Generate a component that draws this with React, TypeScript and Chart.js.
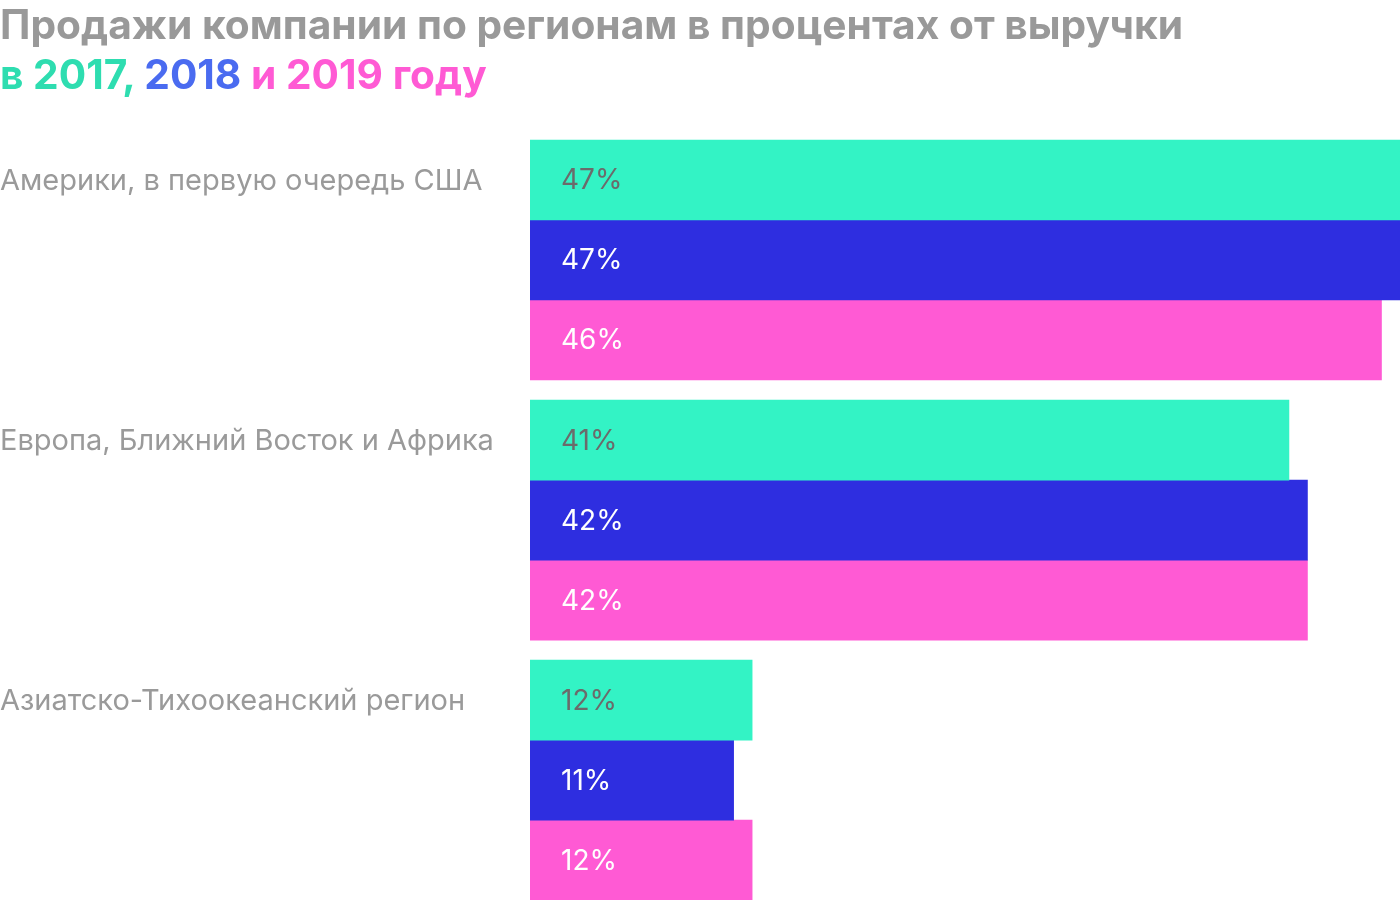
import React, { useEffect, useRef } from "react";
import { Chart, registerables } from "chart.js";

Chart.register(...registerables);

const categories = [
  "Америки, в первую очередь США",
  "Европа, Ближний Восток и Африка",
  "Азиатско-Тихоокеанский регион",
];
const years = ["2017", "2018", "2019"];
const values2017 = [47, 41, 12];
const values2018 = [47, 42, 11];
const values2019 = [46, 42, 12];
const barColors = ["#33F3C5", "#2E2EE0", "#FF5AD4"];
const labelColors = ["#6b6b6b", "#ffffff", "#ffffff"];

const FONT = "Inter, Roboto, 'Noto Sans', sans-serif";
const H = 927;

const valueLabels = {
  id: "valueLabels",
  afterDatasetsDraw(chart: any) {
    const ctx = chart.ctx;
    ctx.save();
    ctx.font = `28px ${FONT}`;
    ctx.textBaseline = "middle";
    ctx.textAlign = "left";
    chart.data.datasets.forEach((ds: any, di: number) => {
      const meta = chart.getDatasetMeta(di);
      meta.data.forEach((bar: any, i: number) => {
        ctx.fillStyle = labelColors[di];
        ctx.fillText(`${ds.data[i]}%`, bar.base + 31, bar.y + 1);
      });
    });
    ctx.restore();
  },
};

export default function App() {
  const ref = useRef<HTMLCanvasElement>(null);
  useEffect(() => {
    document.body.style.margin = "0";
    document.body.style.overflow = "hidden";
    document.documentElement.style.overflow = "hidden";
    const chart = new Chart(ref.current!, {
      type: "bar",
      data: {
        labels: categories,
        datasets: [values2017, values2018, values2019].map((d, i) => ({
          label: years[i],
          data: d,
          backgroundColor: barColors[i],
          borderWidth: 0,
          barThickness: 80,
        })),
      },
      options: {
        indexAxis: "y",
        animation: false,
        responsive: false,
        maintainAspectRatio: false,
        layout: { padding: { top: 130, left: 0, right: 0, bottom: 0 } },
        plugins: {
          legend: { display: false },
          tooltip: { enabled: false },
          title: { display: false },
        },
        scales: {
          x: {
            display: false,
            min: 0,
            max: 47,
          },
          y: {
            offset: true,
            grid: { display: false, drawTicks: false },
            border: { display: false },
            afterFit: (scale: any) => {
              scale.width = 530;
            },
            ticks: {
              crossAlign: "far",
              padding: 0,
              color: "#9a9a9a",
              font: { family: FONT, size: 29, lineHeight: 1.16 },
              labelOffset: -79,
            },
          },
        },
      },
      plugins: [valueLabels],
    });
    return () => chart.destroy();
  }, []);

  return (
    <div style={{ position: "fixed", left: 0, top: 0, width: 1400, height: H }}>
      <canvas ref={ref} width={1400} height={H} style={{ display: "block" }} />
      <div
        style={{
          position: "absolute",
          left: 0,
          top: 0,
          fontFamily: FONT,
          fontWeight: 700,
          fontSize: 40.7,
          lineHeight: "50px",
          color: "#999999",
          whiteSpace: "nowrap",
        }}
      >
        <div>Продажи компании по регионам в процентах от выручки</div>
        <div>
          <span style={{ color: "#2EDDB0" }}>в 2017, </span>
          <span style={{ color: "#4A6BF0" }}>2018 </span>
          <span style={{ color: "#FF5AD4" }}>и 2019 году</span>
        </div>
      </div>
    </div>
  );
}
